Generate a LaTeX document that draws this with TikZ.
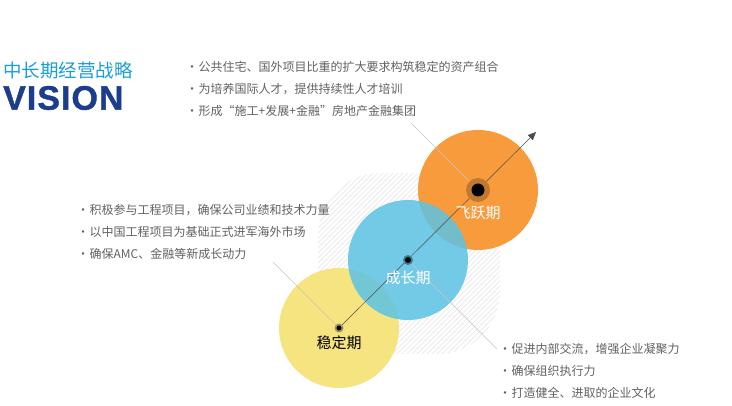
\documentclass[tikz,border=0pt]{standalone}
\usepackage{fontspec}
\setmainfont{Noto Sans CJK SC}
\newfontfamily\visionfont[LetterSpace=3, FakeBold=1.2]{Liberation Sans}
\usepackage{tikz}
\usetikzlibrary{arrows.meta, positioning}

\definecolor{stableyellow}{HTML}{F6E480}
\definecolor{growblue}{HTML}{5CC2E4}
\definecolor{leaporange}{HTML}{F89B3C}
\definecolor{titleblue}{HTML}{1A9DDB}
\definecolor{visionnavy}{HTML}{1C3C8C}
\definecolor{textgray}{HTML}{616161}
\definecolor{hatchgray}{HTML}{EBEBEB}

\newcommand{\dotmark}{·\hspace{0.5pt}}

\begin{document}
\begin{tikzpicture}[
    x=1pt, y=-1pt,
    phase/.style={circle, minimum size=120pt, inner sep=0pt},
    bullet/.style={anchor=west, inner sep=0pt, text=textgray, font=\fontsize{12}{12}\selectfont},
    phasename/.style={inner sep=0pt, font=\fontsize{15}{15}\selectfont},
    leader/.style={draw=gray!45, line width=0.5pt},
    axis/.style={draw=black!70, line width=0.5pt, -{Triangle[length=8pt, width=7pt]}}
]
\useasboundingbox (0,0) rectangle (732,406);

% Hatched backdrop
\begin{scope}
  \clip[rounded corners=62pt] (318,173) rectangle (500,354);
  \foreach \x in {136,141,...,506}
    \draw[hatchgray, line width=0.9pt] (\x,355) -- ++(182,-182);
\end{scope}

% Phases
\node[phase, fill=stableyellow] (stable) at (339,328) {};
\node[phase, fill=leaporange] (leap) at (478,190) {};
\node[phase, fill=growblue, fill opacity=0.85] (growth) at (408,260) {};

% Leaders
\coordinate (stableend) at (273,262);
\coordinate (growthend) at (497,349);
\coordinate (leapend) at (411,123);
\draw[leader] (stable.center) -- (stableend);
\draw[leader] (growth.center) -- (growthend);
\draw[leader] (leap.center) -- (leapend);

% Axis
\coordinate (arrowtip) at (536,132);
\draw[axis] (stable.center) -- (arrowtip);

% Hubs
\fill[fill=black!35!stableyellow] (stable.center) circle (4.5);
\fill[black] (stable.center) circle (2.5);
\fill[fill=black!35!growblue] (growth.center) circle (5);
\fill[black] (growth.center) circle (3);
\fill[fill=black!22!leaporange] (leap.center) circle (12);
\fill[black] (leap.center) circle (6.5);

% Phase names
\node[phasename, text=black] (stablename) at (339,343) {稳定期};
\node[phasename, text=white] (growthname) at (408,278) {成长期};
\node[phasename, text=white] (leapname) at (478,213) {飞跃期};

% Title
\node[anchor=west, inner sep=0pt, text=titleblue, font=\fontsize{18.5}{18.5}\selectfont] (title) at (3,70) {中长期经营战略};
\node[anchor=west, inner sep=0pt, text=visionnavy, font=\visionfont\bfseries\fontsize{34}{34}\selectfont] (vision) at (3,98) {VISION};

% Texts
\node[bullet] (leap1) at (186,67) {\dotmark 公共住宅、国外项目比重的扩大要求构筑稳定的资产组合};
\node[bullet] (leap2) at (186,89) {\dotmark 为培养国际人才，提供持续性人才培训};
\node[bullet] (leap3) at (186,111) {\dotmark 形成“施工+发展+金融”房地产金融集团};

\node[bullet] (stable1) at (77,210) {\dotmark 积极参与工程项目，确保公司业绩和技术力量};
\node[bullet] (stable2) at (77,232) {\dotmark 以中国工程项目为基础正式进军海外市场};
\node[bullet] (stable3) at (77,254) {\dotmark 确保AMC、金融等新成长动力};

\node[bullet] (growth1) at (499,349) {\dotmark 促进内部交流，增强企业凝聚力};
\node[bullet] (growth2) at (499,371) {\dotmark 确保组织执行力};
\node[bullet] (growth3) at (499,393) {\dotmark 打造健全、进取的企业文化};

\end{tikzpicture}
\end{document}
